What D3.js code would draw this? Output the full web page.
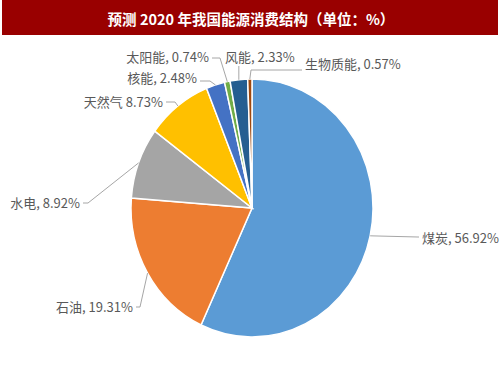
<!DOCTYPE html>
<html>
<head>
<meta charset="utf-8">
<script src="https://cdn.jsdelivr.net/npm/d3@7/dist/d3.min.js"></script>
<style>
  html, body { margin: 0; padding: 0; background: #fff; }
  svg { display: block; }
</style>
</head>
<body>
<script>
// ---- data ----
const categories = ["煤炭", "石油", "水电", "天然气", "核能", "太阳能", "风能", "生物质能"];
const values = [56.92, 19.31, 8.92, 8.73, 2.48, 0.74, 2.33, 0.57];
const labelTexts = ["煤炭, 56.92%", "石油, 19.31%", "水电, 8.92%", "天然气 8.73%", "核能, 2.48%", "太阳能, 0.74%", "风能, 2.33%", "生物质能, 0.57%"];
const colors = ["#5B9BD5", "#ED7D31", "#A5A5A5", "#FFC000", "#4472C4", "#70AD47", "#255E91", "#9E480E"];
const title = "预测 2020 年我国能源消费结构（单位：%）";

// ---- layout (relative to pie centre) ----
const W = 500, H = 375;
const cx = 252, cy = 208, rx = 121, ry = 129;
// text anchor point and leader elbow, offsets from pie centre
const labelLayout = [
  { anchor: "start", t: [170, 29],  e: [166, 29] },
  { anchor: "end",   t: [-119, 98], e: [-112, 99] },
  { anchor: "end",   t: [-172, -6], e: [-164, -5] },
  { anchor: "end",   t: [-89, -107], e: [-77, -106] },
  { anchor: "end",   t: [-55, -131], e: [-42, -127] },
  { anchor: "end",   t: [-43, -152], e: [-32, -150] },
  { anchor: "start", t: [-27, -152], e: [-14, -142] },
  { anchor: "start", t: [53, -145], e: [-1, -138] }
];

const svg = d3.select("body").append("svg")
  .attr("width", W).attr("height", H)
  .style("font-family", "'Noto Sans CJK SC', 'Noto Sans', sans-serif");

// title bar
svg.append("rect").attr("x", 2).attr("y", 0).attr("width", 496).attr("height", 35)
  .attr("fill", "#990000");
svg.append("text").attr("x", 251).attr("y", 18)
  .attr("text-anchor", "middle").attr("dominant-baseline", "central")
  .attr("fill", "#fff").attr("font-size", 14.5).attr("font-weight", "bold")
  .text(title);

const data = categories.map((c, i) => ({ name: c, value: values[i], label: labelTexts[i], color: colors[i] }));
const pie = d3.pie().sort(null).value(d => d.value).startAngle(0).endAngle(2 * Math.PI);
const arcs = pie(data);
const arc = d3.arc().innerRadius(0).outerRadius(ry);

const g = svg.append("g").attr("transform", `translate(${cx},${cy}) scale(${rx / ry},1)`);
g.selectAll("path").data(arcs).join("path")
  .attr("d", arc)
  .attr("fill", d => d.data.color)
  .attr("stroke", "#fff")
  .attr("stroke-width", 1.5)
  .attr("vector-effect", "non-scaling-stroke");

// leader lines and labels
const lg = svg.append("g").attr("transform", `translate(${cx},${cy})`);
arcs.forEach((d, i) => {
  const a = (d.startAngle + d.endAngle) / 2;
  const p0 = [rx * Math.sin(a), -ry * Math.cos(a)];
  const L = labelLayout[i];
  const tx = L.t[0], ty = L.t[1];
  const endX = L.anchor === "start" ? tx - 3 : tx + 3;
  let pts;
  if (i === 6) {
    pts = [p0, [p0[0], L.e[1]]];
  } else {
    pts = [p0, L.e, [endX, L.e[1]]];
  }
  lg.append("path")
    .attr("d", d3.line()(pts))
    .attr("fill", "none").attr("stroke", "#A6A6A6").attr("stroke-width", 1);
  lg.append("text")
    .attr("x", tx).attr("y", ty)
    .attr("text-anchor", L.anchor).attr("dominant-baseline", "central")
    .attr("fill", "#595959").attr("font-size", 13)
    .text(d.data.label);
});
</script>
</body>
</html>
